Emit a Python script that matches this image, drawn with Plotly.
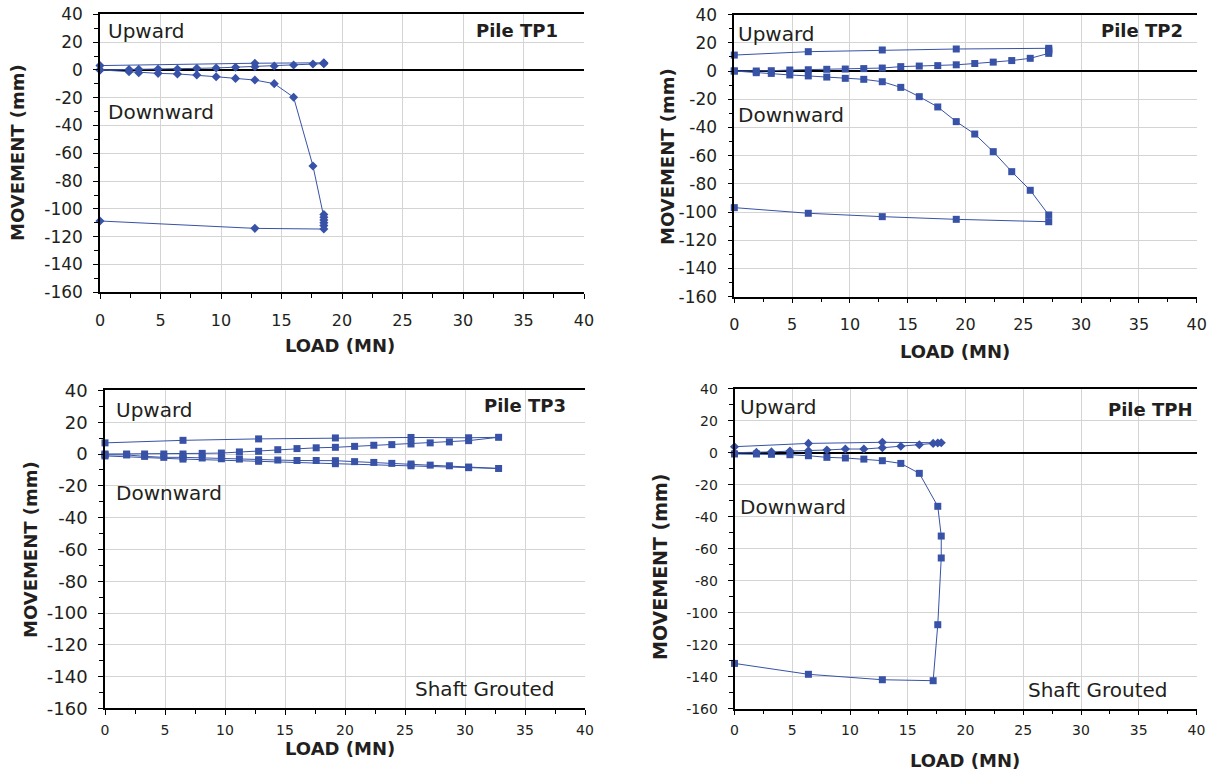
import plotly.graph_objects as go

W, H = 1219, 776

# ---------------- data ----------------
tp1_up_load = [0, 2.4, 3.2, 4.8, 6.4, 8.0, 9.6, 11.2, 12.8, 14.4, 16.0, 17.6, 18.5, 18.5, 18.5, 12.8, 0]
tp1_up_mm = [0, 0.2, 0.4, 0.6, 0.7, 1.1, 1.4, 1.9, 2.3, 2.8, 3.5, 4.2, 4.5, 4.8, 5.1, 4.8, 3.1]
tp1_dn_load = [0, 2.4, 3.2, 4.8, 6.4, 8.0, 9.6, 11.2, 12.8, 14.4, 16.0, 17.6, 18.5, 18.5, 18.5, 18.5, 18.5, 18.5, 12.8, 0]
tp1_dn_mm = [0, -1.3, -2.0, -2.5, -2.9, -3.7, -4.9, -6.1, -7.3, -9.9, -19.7, -69.1, -104, -106, -108, -110, -112, -114.5, -114, -108.7]

tp2_up_load = [0, 1.9, 3.2, 4.8, 6.4, 8.0, 9.6, 11.2, 12.8, 14.4, 16.0, 17.6, 19.2, 20.8, 22.4, 24.0, 25.6, 27.2, 27.2, 27.2, 27.2, 19.2, 12.8, 6.4, 0]
tp2_up_mm = [0, 0, 0.2, 0.7, 0.9, 1.2, 1.4, 1.7, 2.1, 3.1, 3.5, 3.8, 4.4, 5.3, 6.3, 7.4, 9.0, 12.5, 14.0, 15.0, 16.1, 15.6, 14.9, 13.7, 11.3]
tp2_dn_load = [0, 1.9, 3.2, 4.8, 6.4, 8.0, 9.6, 11.2, 12.8, 14.4, 16.0, 17.6, 19.2, 20.8, 22.4, 24.0, 25.6, 27.2, 27.2, 19.2, 12.8, 6.4, 0]
tp2_dn_mm = [0, -1.2, -1.7, -2.8, -3.5, -4.3, -5.2, -5.9, -7.6, -11.6, -18.2, -25.5, -35.9, -44.7, -57.2, -71.4, -84.6, -102.1, -106.9, -105.2, -103.3, -100.9, -96.9]

tp3_up_load = [0, 1.8, 3.3, 4.9, 6.5, 8.1, 9.7, 11.2, 12.8, 14.4, 16.0, 17.6, 19.2, 20.8, 22.4, 23.9, 25.5, 27.1, 28.7, 30.3, 32.8, 30.3, 25.5, 19.2, 12.8, 6.5, 0]
tp3_up_mm = [0, 0, 0, 0, 0, 0.4, 0.6, 1.3, 1.7, 2.7, 3.4, 3.9, 4.2, 4.8, 5.5, 5.9, 6.3, 7.0, 7.6, 8.4, 10.5, 10.2, 10.4, 10.1, 9.5, 8.6, 7.0]
tp3_dn_load = [0, 1.8, 3.3, 4.9, 6.5, 8.1, 9.7, 11.2, 12.8, 14.4, 16.0, 17.6, 19.2, 20.8, 22.4, 23.9, 25.5, 27.1, 28.7, 30.3, 32.8, 30.3, 25.5, 19.2, 12.8, 6.5, 0]
tp3_dn_mm = [-0.5, -0.6, -1.5, -2.1, -2.1, -2.5, -3.0, -3.2, -3.6, -3.8, -4.1, -4.1, -4.2, -4.8, -5.3, -5.9, -6.3, -7.0, -7.4, -8.2, -9.1, -8.6, -7.4, -6.1, -4.6, -3.2, -1.2]

tph_up_load = [0, 1.9, 3.2, 4.8, 6.4, 8.0, 9.6, 11.2, 12.8, 14.4, 16.0, 17.2, 17.6, 17.9, 12.8, 6.4, 0]
tph_up_mm = [0, 0.2, 0.5, 1.0, 1.25, 1.7, 2.3, 2.3, 3.1, 4.0, 5.0, 5.8, 6.1, 6.2, 6.5, 5.8, 3.75]
tph_dn_load = [0, 1.9, 3.2, 4.8, 6.4, 8.0, 9.6, 11.2, 12.8, 14.4, 16.0, 17.6, 17.9, 17.9, 17.6, 17.2, 12.8, 6.4, 0]
tph_dn_mm = [-0.8, -0.8, -1.0, -1.25, -1.9, -2.9, -3.3, -4.0, -5.0, -6.7, -12.9, -33.5, -52.1, -65.8, -107.5, -142.5, -141.9, -138.5, -131.7]

x_ticks = [0, 5, 10, 15, 20, 25, 30, 35, 40]
x_tick_text = ["0", "5", "10", "15", "20", "25", "30", "35", "40"]
y_ticks = [40, 20, 0, -20, -40, -60, -80, -100, -120, -140, -160]
y_tick_text = ["40", "20", "0", "-20", "-40", "-60", "-80", "-100", "-120", "-140", "-160"]

titles = ["Pile TP1", "Pile TP2", "Pile TP3", "Pile TPH"]

# ---------------- styling / layout ----------------
BLUE = "#3752a6"
TXT = "#231f20"
FONT = "DejaVu Sans"

def px(x):
    return x / W

def py(y):
    return 1 - y / H

# panel plot-area pixel boxes: left, right, top, bottom
boxes = [
    (100, 584, 14.3, 292.3),
    (734.3, 1196.7, 14.6, 296.6),
    (105, 585, 390.4, 708.4),
    (734.5, 1196.5, 388.7, 708.7),
]
xtick_sizes = [16, 16, 14, 14]
ytick_sizes = [17, 17, 18, 14]
xtick_standoff = [8, 7, 3, 3]
zero_black = [True, True, False, True]

series = [
    [(tp1_up_load, tp1_up_mm, "diamond"), (tp1_dn_load, tp1_dn_mm, "diamond")],
    [(tp2_up_load, tp2_up_mm, "square"), (tp2_dn_load, tp2_dn_mm, "square")],
    [(tp3_up_load, tp3_up_mm, "square"), (tp3_dn_load, tp3_dn_mm, "square")],
    [(tph_up_load, tph_up_mm, "diamond"), (tph_dn_load, tph_dn_mm, "square")],
]

fig = go.Figure()
layout = dict(
    width=W, height=H, margin=dict(l=0, r=0, t=0, b=0, pad=0, autoexpand=False),
    paper_bgcolor="white", plot_bgcolor="white", showlegend=False,
    font=dict(family=FONT, color=TXT),
)
annotations = []

for i, (box, ser) in enumerate(zip(boxes, series)):
    n = "" if i == 0 else str(i + 1)
    l, r, t, b = box
    layout["xaxis" + n] = dict(
        domain=[px(l), px(r)], anchor="y" + n, range=[0, 40], automargin=False,
        tickmode="array", tickvals=x_ticks, ticktext=x_tick_text,
        showgrid=True, gridcolor="#d4d4d4", gridwidth=1,
        showline=True, linecolor="black", linewidth=1.5, mirror=True,
        ticks="outside", ticklen=5, tickcolor="black",
        minor=dict(dtick=2.5, ticks="outside", ticklen=4, tickcolor="black", showgrid=False),
        zeroline=False, tickfont=dict(size=xtick_sizes[i], family=FONT, color=TXT),
        ticklabelstandoff=xtick_standoff[i], ticklabeloverflow="allow", fixedrange=True,
    )
    layout["yaxis" + n] = dict(
        domain=[py(b), py(t)], anchor="x" + n, range=[-160, 40], automargin=False,
        tickmode="array", tickvals=y_ticks, ticktext=y_tick_text,
        showgrid=True, gridcolor="#d4d4d4", gridwidth=1,
        showline=True, linecolor="black", linewidth=1.5,
        ticks="outside", ticklen=5, tickcolor="black",
        minor=dict(dtick=10, ticks="outside", ticklen=4, tickcolor="black", showgrid=False),
        zeroline=zero_black[i], zerolinecolor="black", zerolinewidth=2,
        tickfont=dict(size=ytick_sizes[i], family=FONT, color=TXT),
        ticklabelstandoff=7, ticklabeloverflow="allow", fixedrange=True,
    )
    for xs, ys, sym in ser:
        fig.add_trace(go.Scatter(
            x=xs, y=ys, mode="lines+markers", xaxis="x" + n, yaxis="y" + n,
            line=dict(color=BLUE, width=1),
            marker=dict(symbol=sym, size=7, color=BLUE),
            cliponaxis=False, hoverinfo="skip",
        ))

def add_text(text, x, y, size, bold=False, xanchor="left", angle=0):
    annotations.append(dict(
        text=("<b>%s</b>" % text) if bold else text,
        x=px(x), y=py(y), xref="paper", yref="paper",
        xanchor=xanchor, yanchor="middle", showarrow=False, textangle=angle,
        font=dict(family=FONT, size=size, color=TXT),
    ))

# panel texts
add_text(titles[0], 517, 31, 18, True, "center")
add_text("Upward", 106, 31, 20)
add_text("Downward", 106, 112, 20)
add_text(titles[1], 1142, 31, 18, True, "center")
add_text("Upward", 736, 34, 20)
add_text("Downward", 736, 115, 20)
add_text(titles[2], 525, 405, 18, True, "center")
add_text("Upward", 114, 410, 20)
add_text("Downward", 114, 493, 20)
add_text("Shaft Grouted", 413, 689, 20)
add_text(titles[3], 1150, 409, 18, True, "center")
add_text("Upward", 738, 407, 20)
add_text("Downward", 738, 507, 20)
add_text("Shaft Grouted", 1026, 690, 20)

# axis titles
add_text("MOVEMENT (mm)", 18, 153, 18, True, "center", -90)
add_text("LOAD (MN)", 340, 345, 18, True, "center")
add_text("MOVEMENT (mm)", 668, 157, 18, True, "center", -90)
add_text("LOAD (MN)", 955, 352, 18, True, "center")
add_text("MOVEMENT (mm)", 30, 550, 18, True, "center", -90)
add_text("LOAD (MN)", 340, 748, 18, True, "center")
add_text("MOVEMENT (mm)", 660, 567, 19, True, "center", -90)
add_text("LOAD (MN)", 965, 760, 18, True, "center")

layout["annotations"] = annotations
fig.update_layout(**layout)
# remove the browser's default 8 px body margin so the figure fills the window
fig.write_html("out.html", config={"displayModeBar": False},
               post_script="document.body.style.margin='0px';")
